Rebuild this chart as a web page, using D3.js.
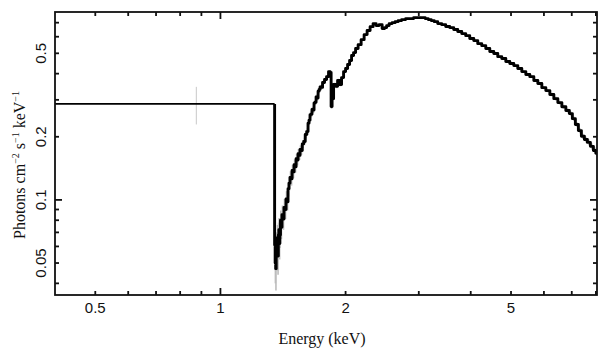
<!DOCTYPE html>
<html><head><meta charset="utf-8">
<script src="https://cdn.jsdelivr.net/npm/d3@7"></script>
<style>body{margin:0;background:#fff}</style>
</head><body><svg id="c" width="609" height="357"></svg>
<script>
// ---------- data ----------
const xTickLabels = [0.5, 1, 2, 5];
const xMinorTicks = [0.5, 0.6, 0.7, 0.8, 0.9, 2, 3, 4, 5, 6, 7, 8];
const xMajorTicks = [1];
const yTickLabels = [0.05, 0.1, 0.2, 0.5];
const yMinorTicks = [0.04, 0.05, 0.06, 0.07, 0.08, 0.09, 0.2, 0.3, 0.4, 0.5, 0.6, 0.7];
const yMajorTicks = [0.1];

// broad low-energy bin
const broadEdges = [0.4, 1.35];
const broadCenter = 0.875;
const broadFlux = 0.287;
const broadErr = [0.229, 0.346];

// narrow bins (keV, photons cm^-2 s^-1 keV^-1)
const energy = [
  1.352,1.356,1.360,1.364,1.368,1.372,1.376,1.380,1.384,1.388,
  1.392,1.397,1.402,1.410,1.418,1.426,1.434,1.442,1.450,1.458,
  1.466,1.474,1.483,1.491,1.499,1.508,1.516,1.525,1.533,1.541,
  1.550,1.558,1.567,1.580,1.593,1.606,1.620,1.629,1.638,1.647,
  1.656,1.665,1.675,1.684,1.694,1.703,1.713,1.722,1.732,1.741,
  1.751,
  1.770,1.790,1.810,1.830,1.841,1.851,1.861,1.882,1.903,1.924,
  1.945,1.967,1.989,2.011,2.034,2.056,2.079,2.102,2.126,2.162,
  2.198,2.235,2.272,2.310,2.349,2.388,2.429,2.469,2.497,2.525,
  2.567,2.610,2.654,2.698,2.759,2.821,2.884,2.949,3.015,3.082,
  3.134,3.187,3.240,3.295,3.369,3.444,3.521,3.600,3.681,3.764,
  3.848,3.934,4.023,4.113,4.205,4.300,4.396,4.495,4.595,4.698,
  4.804,4.912,5.022,5.134,5.249,5.367,5.488,5.611,5.737,5.865,
  5.997,6.131,6.269,6.409,6.553,6.700,6.850,6.965,7.082,7.201,
  7.322,7.445,7.570,7.697,7.826,7.957,8.046];
const flux = [
  0.061,0.050,0.047,0.060,0.056,0.066,0.054,0.068,0.072,0.062,
  0.068,0.080,0.074,0.085,0.081,0.092,0.090,0.101,0.098,0.113,
  0.120,0.128,0.126,0.138,0.136,0.147,0.144,0.157,0.155,0.166,
  0.163,0.174,0.172,0.185,0.190,0.205,0.212,0.232,0.240,0.255,
  0.256,0.270,0.268,0.290,0.292,0.310,0.306,0.330,0.336,0.346,
  0.344,
  0.363,0.375,0.387,0.409,0.405,0.279,0.304,0.355,0.348,0.371,
  0.355,0.383,0.409,0.423,0.442,0.462,0.488,0.504,0.527,0.550,
  0.581,0.614,0.642,0.670,0.693,0.678,0.685,0.656,0.663,0.678,
  0.693,0.700,0.708,0.716,0.724,0.732,0.732,0.740,0.740,0.740,
  0.732,0.724,0.716,0.708,0.693,0.685,0.671,0.663,0.649,0.635,
  0.621,0.607,0.588,0.575,0.556,0.544,0.527,0.510,0.499,0.482,
  0.472,0.457,0.447,0.437,0.423,0.409,0.396,0.387,0.371,0.359,
  0.343,0.332,0.318,0.304,0.291,0.278,0.267,0.258,0.244,0.229,
  0.214,0.201,0.194,0.188,0.180,0.172,0.167];
const fluxErr = [
  0.010,0.010,0.010,0.010,0.010,0.010,0.010,0.010,0.010,0.010,
  0.009,0.009,0.009,0.009,0.009,0.009,0.009,0.009,0.009,0.009,
  0.009,0.009,0.009,0.009,0.009,0.009,0.009,0.009,0.009,0.009,
  0.008,0.008,0.008,0.008,0.008,0.008,0.008,0.008,0.008,0.008,
  0.008,0.008,0.008,0.008,0.008,0.008,0.008,0.008,0.008,0.008,
  0.008,
  0.007,0.007,0.007,0.007,0.007,0.007,0.007,0.007,0.007,0.007,
  0.007,0.007,0.007,0.007,0.007,0.007,0.007,0.007,0.007,0.007,
  0.007,0.007,0.007,0.007,0.007,0.007,0.007,0.007,0.007,0.007,
  0.007,0.007,0.007,0.007,0.007,0.007,0.007,0.007,0.007,0.007,
  0.007,0.007,0.007,0.007,0.007,0.007,0.007,0.007,0.007,0.007,
  0.006,0.006,0.006,0.006,0.006,0.006,0.006,0.006,0.006,0.006,
  0.006,0.006,0.006,0.006,0.006,0.006,0.006,0.006,0.006,0.006,
  0.006,0.006,0.006,0.006,0.006,0.006,0.006,0.006,0.006,0.006,
  0.006,0.006,0.006,0.006,0.006,0.006,0.006];

// ---------- layout ----------
const m = {left: 55, right: 597, top: 12, bottom: 295};
const svg = d3.select("#c");

const x = d3.scaleLog().domain([0.4, 8.05]).range([m.left, m.right]);
const y = d3.scaleLog().domain([0.0352, 0.787]).range([m.bottom, m.top]);

svg.append("defs").append("clipPath").attr("id","clip")
  .append("rect").attr("x",m.left).attr("y",m.top)
  .attr("width",m.right-m.left).attr("height",m.bottom-m.top);

const plot = svg.append("g").attr("clip-path","url(#clip)");

// error bars
plot.append("line")
  .attr("x1",x(broadCenter)).attr("x2",x(broadCenter))
  .attr("y1",y(broadErr[0])).attr("y2",y(broadErr[1]))
  .attr("stroke","#c8c8c8").attr("stroke-width",1);

plot.selectAll("line.err").data(energy).join("line").attr("class","err")
  .attr("x1",d=>x(d)).attr("x2",d=>x(d))
  .attr("y1",(d,i)=>y(flux[i]-(fluxErr[i]||0)))
  .attr("y2",(d,i)=>y(flux[i]+(fluxErr[i]||0)))
  .attr("stroke","#bdbdbd").attr("stroke-width",1.6);

// step histogram
const pts = [[broadEdges[0], broadFlux],[broadEdges[1], broadFlux]];
const n = energy.length;
energy.forEach((e,i)=>{
  const lo = i===0 ? broadEdges[1] : Math.sqrt(energy[i-1]*e);
  const hi = i===n-1 ? e*Math.sqrt(e/energy[i-1]) : Math.sqrt(e*energy[i+1]);
  pts.push([lo, flux[i]]); pts.push([hi, flux[i]]);
});
const line = d3.line().x(d=>x(d[0])).y(d=>y(d[1]));
plot.append("path").attr("d", line(pts.slice(0,2)))
  .attr("fill","none").attr("stroke","#000").attr("stroke-width",1.9);
plot.append("path").attr("d", line(pts.slice(1)))
  .attr("fill","none").attr("stroke","#000").attr("stroke-width",2.9)
  .attr("stroke-linejoin","round");

// frame
const frame = svg.append("g").attr("stroke","#111").attr("stroke-width",1.8);
frame.append("rect").attr("x",m.left).attr("y",m.top)
  .attr("width",m.right-m.left).attr("height",m.bottom-m.top).attr("fill","none");

// ticks (inward on all four sides)
const minorLen = 4, majorLen = 7;
function xt(vals, len){
  vals.forEach(v=>{
    frame.append("line").attr("x1",x(v)).attr("x2",x(v)).attr("y1",m.bottom).attr("y2",m.bottom-len);
    frame.append("line").attr("x1",x(v)).attr("x2",x(v)).attr("y1",m.top).attr("y2",m.top+len);
  });
}
function yt(vals, len){
  vals.forEach(v=>{
    frame.append("line").attr("y1",y(v)).attr("y2",y(v)).attr("x1",m.left).attr("x2",m.left+len);
    frame.append("line").attr("y1",y(v)).attr("y2",y(v)).attr("x1",m.right).attr("x2",m.right-len);
  });
}
xt(xMinorTicks.filter(v=>v<8.05), minorLen); xt(xMajorTicks, majorLen);
yt(yMinorTicks, minorLen); yt(yMajorTicks, majorLen);

// tick labels
const fmt = d=>String(d);
svg.append("g").selectAll("text").data(xTickLabels).join("text")
  .attr("x",d=>x(d)).attr("y",313).attr("text-anchor","middle")
  .attr("font-family","Liberation Sans, Arial, sans-serif").attr("font-size",15)
  .attr("fill","#111").text(fmt);
svg.append("g").selectAll("text").data(yTickLabels).join("text")
  .attr("transform",d=>`translate(46,${y(d)}) rotate(-90)`).attr("text-anchor","middle")
  .attr("font-family","Liberation Sans, Arial, sans-serif").attr("font-size",15)
  .attr("fill","#111").text(fmt);

// axis titles
svg.append("text").attr("x",(m.left+m.right)/2 - 4).attr("y",344).attr("text-anchor","middle")
  .attr("font-family","Liberation Serif, Times New Roman, serif").attr("font-size",16)
  .attr("fill","#111").text("Energy (keV)");

const ytl = svg.append("text").attr("transform","translate(25,165) rotate(-90)").attr("text-anchor","middle")
  .attr("font-family","Liberation Serif, Times New Roman, serif").attr("font-size",16).attr("fill","#111");
ytl.append("tspan").text("Photons cm");
ytl.append("tspan").attr("dy",-6).attr("font-size",10).text("−2");
ytl.append("tspan").attr("dy",6).text(" s");
ytl.append("tspan").attr("dy",-6).attr("font-size",10).text("−1");
ytl.append("tspan").attr("dy",6).text(" keV");
ytl.append("tspan").attr("dy",-6).attr("font-size",10).text("−1");
</script></body></html>
